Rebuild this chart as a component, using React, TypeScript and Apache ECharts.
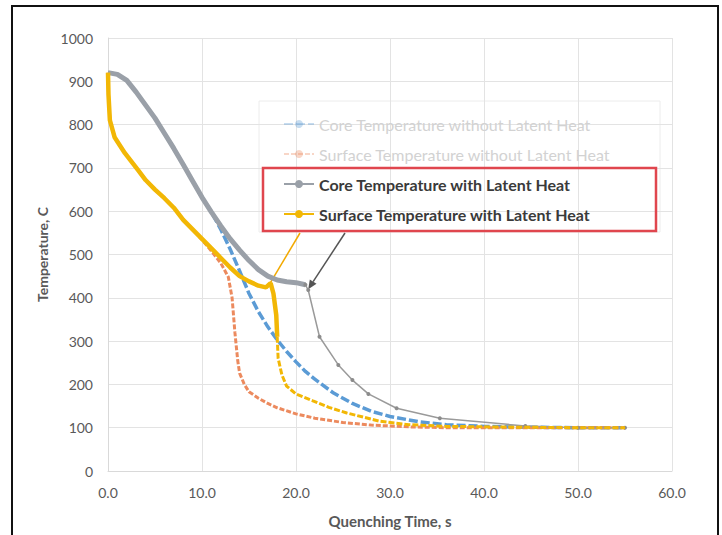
import React, { useEffect, useRef } from "react";
import * as echarts from "echarts";

// [time s, temperature C]
const coreNoLatent: number[][] = [
  [0, 920], [1, 916], [2, 902], [3, 875], [4, 845], [5, 815], [6, 780], [7, 745],
  [8, 708], [9, 670], [10, 632], [11, 598], [12, 558], [13, 512], [14, 462],
  [15, 410], [16, 368], [17, 333], [18, 303], [19, 276], [20, 252], [21, 230],
  [22, 212], [24, 180], [26, 156], [28, 138], [30, 126], [33, 114], [36, 107],
  [40, 103], [45, 101], [50, 100], [55, 100],
];
const surfNoLatent: number[][] = [
  [0, 920], [0.05, 870], [0.2, 810], [0.7, 771], [1.8, 734], [3.2, 695], [4, 672],
  [5, 650], [6, 630], [7, 608], [8, 580], [9, 558], [10, 534], [11, 508], [12, 480],
  [12.8, 448], [13.2, 400], [13.5, 320], [13.8, 255], [14, 226], [14.5, 200],
  [15, 183], [16, 168], [17, 156], [18, 146], [20, 132], [22, 122], [25, 112],
  [28, 106], [32, 102], [36, 100], [45, 100], [55, 100],
];
const coreLatent: number[][] = [
  [0, 920], [1, 916], [2, 902], [3, 875], [4, 845], [5, 815], [6, 780], [7, 745],
  [8, 708], [9, 670], [10, 632], [11, 598], [12, 566], [13, 536], [14, 510],
  [15, 486], [16, 465], [17, 450], [18, 441], [19, 437], [20, 435], [21, 430],
];
const coreLatentTail: number[][] = [
  [21, 430], [21.3, 418], [22.5, 310], [24.5, 245], [26, 210], [27.7, 178],
  [30.7, 145], [35.3, 122], [44.4, 104], [50, 100], [55, 100],
];
const surfLatent: number[][] = [
  [0, 920], [0.05, 870], [0.2, 810], [0.7, 771], [1.8, 734], [3.2, 695], [4, 672],
  [5, 650], [6, 630], [7, 608], [8, 580], [9, 558], [10, 536], [11, 514], [12, 492],
  [13, 470], [14, 450], [15, 438], [16, 428], [16.8, 424], [17.3, 434], [17.6, 410],
  [17.9, 360], [18, 310],
];
const surfLatentTail: number[][] = [
  [18, 310], [18.1, 260], [18.5, 222], [19, 196], [20, 178], [21.8, 162],
  [23.5, 147], [25.4, 134], [28.9, 115], [32, 107], [36, 103], [44.4, 101],
  [50, 100], [55, 100],
];
const seriesNames = [
  "Core Temperature without Latent Heat",
  "Surface Temperature without Latent Heat",
  "Core Temperature with Latent Heat",
  "Surface Temperature with Latent Heat",
];
const yellowTarget = [17.2, 432];
const grayTarget = [21.3, 420];

const FONT = "Lato, 'Noto Sans', sans-serif";

export default function App() {
  const ref = useRef<HTMLDivElement>(null);
  useEffect(() => {
    if (!ref.current) return;
    const chart = echarts.init(ref.current, null, { renderer: "svg" });
    const blue = "#5b9bd5";
    const salmon = "#ec8a5e";
    const gray = "#9aa0a8";
    const yellow = "#f2b705";
    chart.setOption({
      animation: false,
      textStyle: { fontFamily: FONT },
      grid: { left: 108, right: 50, top: 38, bottom: 64 },
      xAxis: {
        type: "value", min: 0, max: 60, interval: 10,
        name: "Quenching Time, s", nameLocation: "middle", nameGap: 42,
        nameTextStyle: { color: "#595959", fontSize: 15, fontWeight: "bold", fontFamily: FONT },
        axisLine: { show: true, lineStyle: { color: "#d9d9d9" } },
        axisTick: { show: false },
        axisLabel: { color: "#595959", fontSize: 14, margin: 14, formatter: (v: number) => v.toFixed(1) },
        splitLine: { show: true, lineStyle: { color: "#e3e3e3" } },
      },
      yAxis: {
        type: "value", min: 0, max: 1000, interval: 100,
        name: "Temperature, C", nameLocation: "middle", nameGap: 58,
        nameTextStyle: { color: "#595959", fontSize: 14, fontWeight: "bold", fontFamily: FONT },
        axisLine: { show: true, lineStyle: { color: "#d9d9d9" } },
        axisTick: { show: false },
        axisLabel: { color: "#595959", fontSize: 14, margin: 15, formatter: (v: number) => String(v) },
        splitLine: { show: true, lineStyle: { color: "#e3e3e3" } },
      },
      legend: {
        orient: "vertical", left: 278, top: 111, itemGap: 14, itemWidth: 30, itemHeight: 10,
        data: [
          { name: seriesNames[0], textStyle: { color: "#d2d2d2", fontWeight: "normal" }, itemStyle: { opacity: 0.35 }, lineStyle: { opacity: 0.35 } },
          { name: seriesNames[1], textStyle: { color: "#d2d2d2", fontWeight: "normal" }, itemStyle: { opacity: 0.35 }, lineStyle: { opacity: 0.35 } },
          { name: seriesNames[2], textStyle: { color: "#3a3a3a", fontWeight: "bold" } },
          { name: seriesNames[3], textStyle: { color: "#3a3a3a", fontWeight: "bold" } },
        ],
        textStyle: { fontSize: 16, fontFamily: FONT },
      },
      series: [
        {
          name: seriesNames[0], type: "line", data: coreNoLatent, showSymbol: false, symbol: "circle", symbolSize: 4,
          itemStyle: { color: blue }, lineStyle: { color: blue, width: 3.5, type: [9, 3] }, z: 2,
        },
        {
          name: seriesNames[1], type: "line", data: surfNoLatent, showSymbol: false, symbol: "circle", symbolSize: 4,
          itemStyle: { color: salmon }, lineStyle: { color: salmon, width: 3, type: [5, 2] }, z: 2,
        },
        {
          name: seriesNames[2], type: "line", data: coreLatent, showSymbol: false, symbol: "circle", symbolSize: 4,
          itemStyle: { color: gray }, lineStyle: { color: gray, width: 5 }, z: 3,
        },
        {
          name: "coreTail", type: "line", data: coreLatentTail, showSymbol: true, symbol: "circle", symbolSize: 4,
          itemStyle: { color: "#8c8c8c" }, lineStyle: { color: "#9a9a9a", width: 1.5 }, z: 3,
        },
        {
          name: seriesNames[3], type: "line", data: surfLatent, showSymbol: false, symbol: "circle", symbolSize: 4,
          itemStyle: { color: yellow }, lineStyle: { color: yellow, width: 4.5 }, z: 4,
        },
        {
          name: "surfTail", type: "line", data: surfLatentTail, showSymbol: false, symbol: "circle", symbolSize: 4,
          itemStyle: { color: yellow }, lineStyle: { color: yellow, width: 3, type: [6, 2] }, z: 4,
        },
      ],
    });
    const py = chart.convertToPixel({ gridIndex: 0 }, yellowTarget) as number[];
    const pg = chart.convertToPixel({ gridIndex: 0 }, grayTarget) as number[];
    const gStart = [345, 233];
    const dx = pg[0] - gStart[0];
    const dy = pg[1] - gStart[1];
    const len = Math.sqrt(dx * dx + dy * dy);
    const ux = dx / len, uy = dy / len;
    const head = 9, hw = 4;
    const bx = pg[0] - ux * head, by = pg[1] - uy * head;
    chart.setOption({
      graphic: [
        { type: "rect", shape: { x: 12, y: 6, width: 706, height: 540 }, style: { fill: "none", stroke: "#111", lineWidth: 2 }, silent: true },
        { type: "rect", shape: { x: 259, y: 101, width: 401, height: 131 }, style: { fill: "none", stroke: "#ececec", lineWidth: 1 }, silent: true, z: -1 },
        { type: "rect", shape: { x: 263, y: 168, width: 393, height: 63 }, style: { fill: "none", stroke: "#e0464e", lineWidth: 2.5 }, silent: true },
        { type: "line", shape: { x1: 300, y1: 233, x2: py[0], y2: py[1] }, style: { stroke: "#f2a900", lineWidth: 1.5 }, silent: true },
        { type: "line", shape: { x1: gStart[0], y1: gStart[1], x2: bx, y2: by }, style: { stroke: "#555", lineWidth: 1.5 }, silent: true },
        {
          type: "polygon",
          shape: { points: [[pg[0], pg[1]], [bx - uy * hw, by + ux * hw], [bx + uy * hw, by - ux * hw]] },
          style: { fill: "#555" }, silent: true,
        },
      ],
    });
    return () => chart.dispose();
  }, []);
  return <div ref={ref} style={{ position: "fixed", left: 0, top: 0, width: 722, height: 535, background: "#fff" }} />;
}
